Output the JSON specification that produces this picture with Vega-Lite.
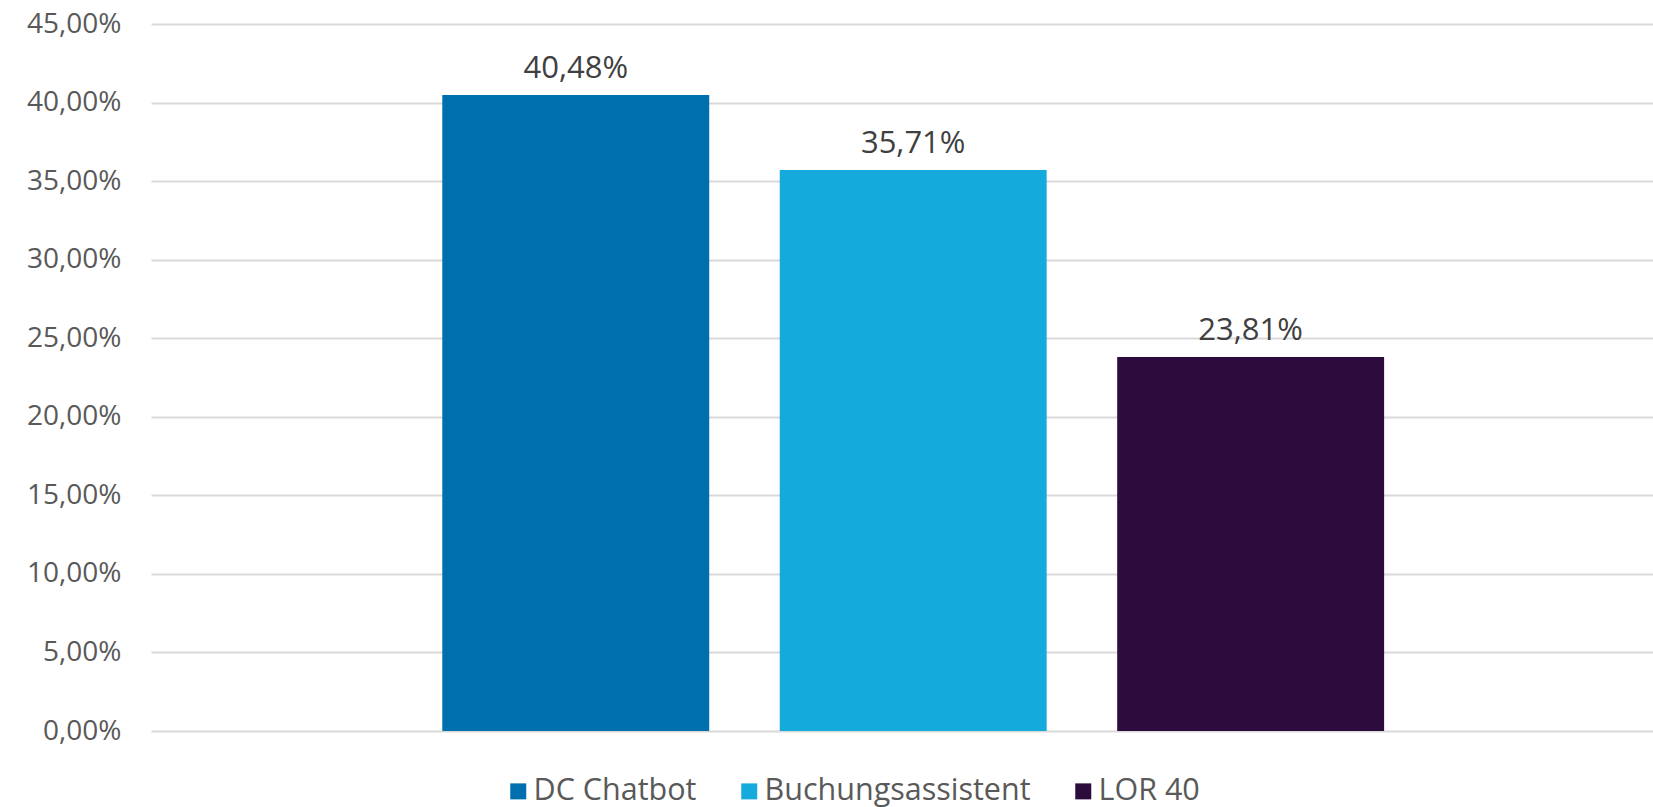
{
  "$schema": "https://vega.github.io/schema/vega-lite/v6.json",
  "width": 1502,
  "height": 707,
  "autosize": {"type": "none"},
  "padding": {"left": 151, "top": 24, "right": 0, "bottom": 76},
  "background": "white",
  "config": {
    "locale": {"number": {"decimal": ",", "thousands": ".", "grouping": [3], "currency": ["", " €"]}},
    "font": "Open Sans",
    "view": {"stroke": null}
  },
  "data": {
    "values": [
      {"serie": "DC Chatbot", "wert": 0.4048},
      {"serie": "Buchungsassistent", "wert": 0.3571},
      {"serie": "LOR 40", "wert": 0.2381}
    ]
  },
  "encoding": {
    "x": {
      "field": "serie",
      "type": "nominal",
      "sort": ["DC Chatbot", "Buchungsassistent", "LOR 40"],
      "scale": {"paddingInner": 0.209, "paddingOuter": 0.83, "align": 0.52},
      "axis": null
    },
    "y": {
      "field": "wert",
      "type": "quantitative",
      "scale": {"domain": [0, 0.45], "nice": false},
      "axis": {
        "values": [0, 0.05, 0.1, 0.15, 0.2, 0.25, 0.3, 0.35, 0.4, 0.45],
        "format": ".2%",
        "title": null,
        "domain": false,
        "ticks": false,
        "labelPadding": 30,
        "labelFontSize": 28,
        "labelColor": "#595959",
        "labelFont": "Open Sans",
        "gridColor": "#D9D9D9",
        "gridWidth": 2
      }
    }
  },
  "layer": [
    {
      "mark": {"type": "bar"},
      "encoding": {
        "color": {
          "field": "serie",
          "type": "nominal",
          "sort": ["DC Chatbot", "Buchungsassistent", "LOR 40"],
          "scale": {"domain": ["DC Chatbot", "Buchungsassistent", "LOR 40"], "range": ["#006FAD", "#14AADC", "#2B0C3C"]},
          "legend": {
            "title": null,
            "orient": "none",
            "direction": "horizontal",
            "legendX": 352,
            "legendY": 752,
            "symbolType": "square",
            "symbolSize": 256,
            "symbolStrokeWidth": 0,
            "labelFontSize": 30.5,
            "labelColor": "#595959",
            "labelFont": "Open Sans",
            "labelOffset": 0,
            "columnPadding": 37,
            "labelLimit": 400
          }
        }
      }
    },
    {
      "mark": {"type": "text", "baseline": "alphabetic", "dy": -17, "fontSize": 31, "color": "#404040", "font": "Open Sans"},
      "encoding": {
        "text": {"field": "wert", "type": "quantitative", "format": ".2%"}
      }
    }
  ]
}
